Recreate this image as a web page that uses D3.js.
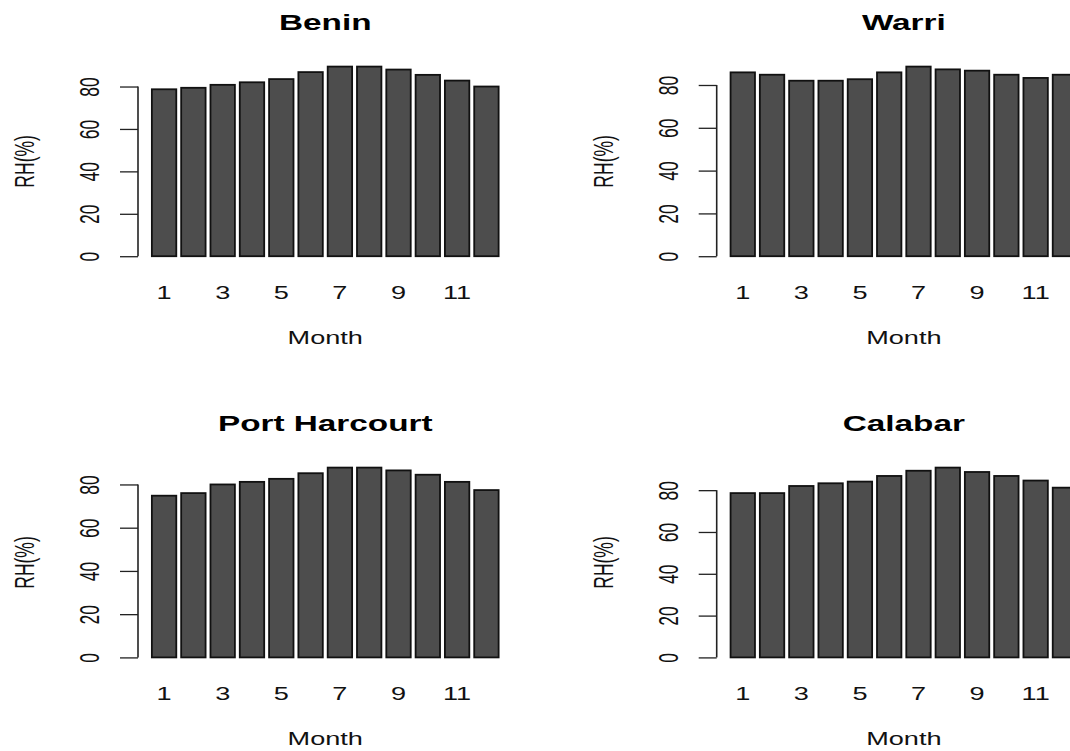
<!DOCTYPE html>
<html>
<head>
<meta charset="utf-8">
<script src="https://cdn.jsdelivr.net/npm/d3@7"></script>
<style>
  body { margin: 0; background: #fff; }
  svg { display: block; font-family: "Liberation Sans", Arial, sans-serif; }
</style>
</head>
<body>
<svg id="chart"></svg>
<script>
var months = [1, 2, 3, 4, 5, 6, 7, 8, 9, 10, 11, 12];
var xLabels = [1, 3, 5, 7, 9, 11];
var yTicks = [0, 20, 40, 60, 80];

var benin = [78.7, 79.4, 80.8, 82.0, 83.5, 86.8, 89.4, 89.4, 88.0, 85.5, 82.8, 80.0];
var warri = [85.9, 84.8, 82.0, 82.0, 82.7, 85.9, 88.6, 87.3, 86.7, 84.8, 83.3, 84.8];
var portHarcourt = [74.8, 76.0, 80.0, 81.2, 82.6, 85.2, 87.8, 87.8, 86.5, 84.5, 81.2, 77.4];
var calabar = [78.6, 78.6, 82.0, 83.3, 84.1, 86.8, 89.3, 90.8, 88.7, 86.8, 84.6, 81.2];

var stations = ["Benin", "Warri", "Port Harcourt", "Calabar"];
var series = [benin, warri, portHarcourt, calabar];

var width = 1070;
var height = 751;
var sx = 1.55;  // the picture is stretched sideways, text too

var svg = d3.select("#chart")
    .attr("width", width)
    .attr("height", height);

// plot regions: left column / right column, top row / bottom row
var cols = [[138, 512.5], [716.7, 1091]];
var rows = [[59, 263.8], [460, 665]];

stations.forEach(function(name, i) {
  var values = series[i];
  var xr = cols[i % 2];
  var yr = rows[Math.floor(i / 2)];
  var max = d3.max(values);

  // barplot spacing: bar 1, gap 0.2, plus 4% of range either side
  var x = d3.scaleBand()
      .domain(months)
      .range(xr)
      .paddingInner(1 / 6)
      .paddingOuter(0.4733);

  var y = d3.scaleLinear()
      .domain([-0.04 * max, 1.04 * max])
      .range([yr[1], yr[0]]);

  var g = svg.append("g");

  g.append("g")
    .selectAll("rect")
    .data(values)
    .enter()
    .append("rect")
    .attr("x", (d, j) => x(months[j]))
    .attr("width", x.bandwidth())
    .attr("y", d => y(d))
    .attr("height", d => y(0) - y(d))
    .attr("fill", "#4d4d4d")
    .attr("stroke", "#111")
    .attr("stroke-width", 1.8);

  // y axis, R style: line only between end ticks
  var yAxis = g.append("g")
      .attr("transform", "translate(" + xr[0] + ",0)")
      .call(d3.axisLeft(y).tickValues(yTicks).tickSize(18));
  yAxis.select(".domain").remove();
  yAxis.append("line")
      .attr("y1", y(0))
      .attr("y2", y(80))
      .attr("stroke", "#222")
      .attr("stroke-width", 1.6);
  yAxis.selectAll(".tick line")
      .attr("stroke", "#222")
      .attr("stroke-width", 1.3);
  yAxis.selectAll(".tick text")
      .attr("x", null)
      .attr("dy", null)
      .attr("fill", "#111")
      .attr("font-size", 17.5)
      .attr("text-anchor", "middle")
      .attr("transform", "translate(-39,0) scale(" + sx + ",1) rotate(-90)");

  // month labels, no axis line or ticks
  var xAxis = g.append("g")
      .attr("transform", "translate(0," + yr[1] + ")")
      .call(d3.axisBottom(x).tickValues(xLabels).tickSize(0));
  xAxis.select(".domain").remove();
  xAxis.selectAll(".tick text")
      .attr("y", null)
      .attr("dy", null)
      .attr("fill", "#111")
      .attr("font-size", 17.5)
      .attr("transform", "translate(0,35) scale(" + sx + ",1)");

  var cx = (xr[0] + xr[1]) / 2;

  g.append("text")
    .attr("transform", "translate(" + cx + "," + (yr[0] - 29) + ") scale(" + sx + ",1)")
    .attr("text-anchor", "middle")
    .attr("font-size", 21.5)
    .attr("font-weight", "bold")
    .attr("fill", "#000")
    .text(name);

  g.append("text")
    .attr("transform", "translate(" + cx + "," + (yr[1] + 80) + ") scale(" + sx + ",1)")
    .attr("text-anchor", "middle")
    .attr("font-size", 17.5)
    .attr("fill", "#111")
    .text("Month");

  g.append("text")
    .attr("transform", "translate(" + (xr[0] - 104) + "," + ((yr[0] + yr[1]) / 2) + ") scale(" + sx + ",1) rotate(-90)")
    .attr("text-anchor", "middle")
    .attr("font-size", 17.5)
    .attr("fill", "#111")
    .text("RH(%)");
});
</script>
</body>
</html>
